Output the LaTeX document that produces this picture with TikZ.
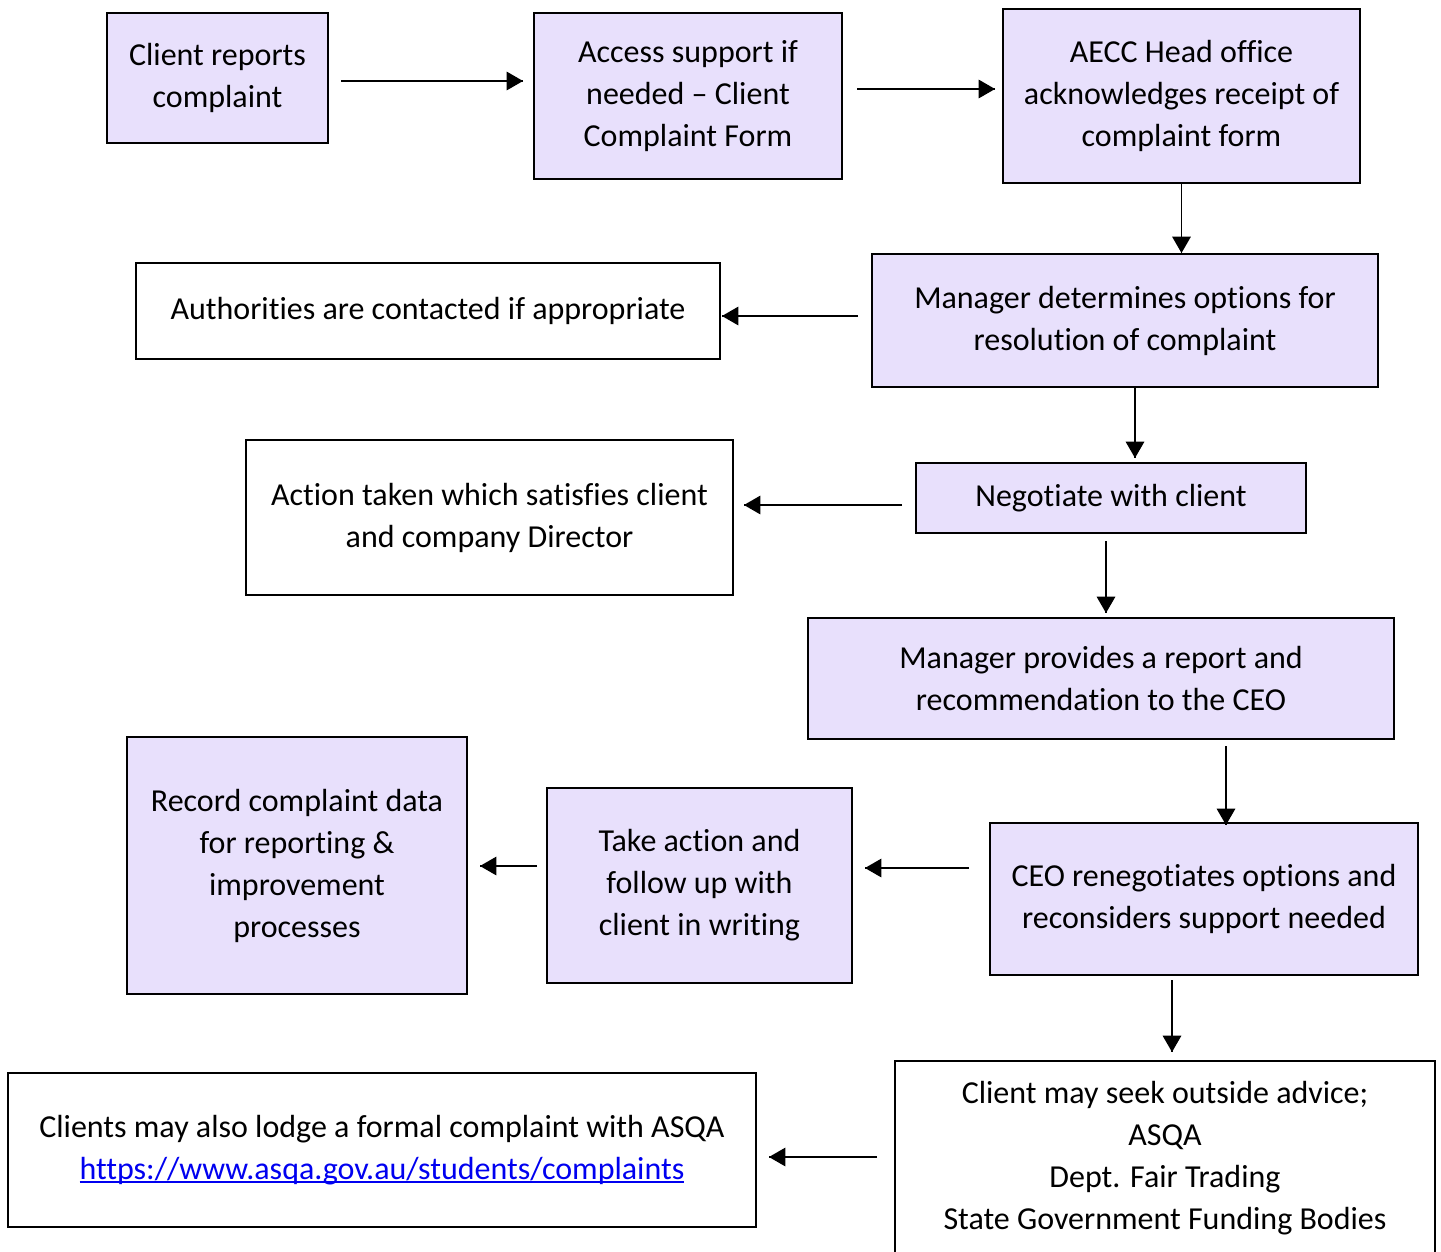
\documentclass[tikz,border=0pt]{standalone}
\usepackage{fontspec}
\setmainfont{Carlito}[Ligatures = NoCommon]
\usepackage{tikz}
\usetikzlibrary{arrows}
\usetikzlibrary{decorations.markings}
\definecolor{lilac}{RGB}{232,224,252}
\definecolor{linkblue}{RGB}{0,0,240}
\newcommand{\linkline}[1]{\setbox0\hbox{#1}\rlap{\rule[-4pt]{\wd0}{2pt}}\box0}
\tikzset{flow/.style = {line width = 1.5, decoration={markings,
                                  mark=at position 1 with {\arrow[scale=1.8]{triangle 60}}},
                      postaction={decorate}}}
\tikzset{stage/.style = {draw, line width = 2, fill = lilac, align = center, inner sep = 0}}
\tikzset{note/.style = {draw, line width = 2, fill = white, align = center, inner sep = 0}}

\begin{document}
\begin{tikzpicture}[x = 1pt, y = -1pt, font = \fontsize{32}{42}\selectfont]
      \useasboundingbox (0, 0) rectangle (1441, 1251);
      \node [stage, minimum width = 221, minimum height = 130] (report) at (217.5, 78) {Client reports\\complaint};
      \node [stage, minimum width = 308, minimum height = 166] (access) at (688, 96) {Access support if\\needed – Client\\Complaint Form};
      \node [stage, minimum width = 357, minimum height = 174] (ack) at (1181.5, 96) {AECC Head office\\acknowledges receipt of\\complaint form};
      \node [stage, minimum width = 506, minimum height = 133] (options) at (1125, 320.5) {Manager determines options for\\resolution of complaint};
      \node [note, minimum width = 584, minimum height = 96] (authority) at (428, 311) {Authorities are contacted if appropriate};
      \node [stage, minimum width = 390, minimum height = 70] (negotiate) at (1111, 498) {Negotiate with client};
      \node [note, minimum width = 487, minimum height = 155] (satisfy) at (489.5, 517.5) {Action taken which satisfies client\\and company Director};
      \node [stage, minimum width = 586, minimum height = 121] (recommend) at (1101, 678.5) {Manager provides a report and\\recommendation to the CEO};
      \node [stage, minimum width = 428, minimum height = 152] (ceo) at (1204, 899) {CEO renegotiates options and\\reconsiders support needed};
      \node [stage, minimum width = 305, minimum height = 195] (followup) at (699.5, 885.5) {Take action and\\follow up with\\client in writing};
      \node [stage, minimum width = 340, minimum height = 257] (record) at (297, 865.5) {Record complaint data\\for reporting \&\\improvement\\processes};
      \node [note, minimum width = 540, minimum height = 194] (advice) at (1165, 1158) {Client may seek outside advice;\\ASQA\\Dept. Fair Trading\\State Government Funding Bodies};
      \node [note, minimum width = 748, minimum height = 154] (asqa) at (382, 1150) {Clients may also lodge a formal complaint with ASQA\\\textcolor{linkblue}{\linkline{https://www.asqa.gov.au/students/complaints}}};
      \draw [flow] ([shift = {(12, 3)}]report.east) -- ([shift = {(-10, 3)}]report.east -| access.west);
      \draw [flow] ([shift = {(14, -7)}]access.east) -- ([shift = {(-7, -7)}]access.east -| ack.west);
      \draw [flow] (ack.south) -- (ack.south |- options.north);
      \draw [flow] ([shift = {(-13, -4.5)}]options.west) -- ([shift = {(1, -4.5)}]options.west -| authority.east);
      \draw [flow] ([xshift = 10]options.south) -- ([shift = {(10, -4)}]options.south |- negotiate.north);
      \draw [flow] ([shift = {(-13, 7)}]negotiate.west) -- ([shift = {(10, 7)}]negotiate.west -| satisfy.east);
      \draw [flow] ([shift = {(-5, 7)}]negotiate.south) -- ([shift = {(-5, -4)}]negotiate.south |- recommend.north);
      \draw [flow] ([shift = {(125, 6)}]recommend.south) -- ([shift = {(125, 3)}]recommend.south |- ceo.north);
      \draw [flow] ([shift = {(-20, -31)}]ceo.west) -- ([shift = {(12, -31)}]ceo.west -| followup.east);
      \draw [flow] ([shift = {(-9, -19.5)}]followup.west) -- ([shift = {(12, -19.5)}]followup.west -| record.east);
      \draw [flow] ([shift = {(-32, 4)}]ceo.south) -- ([shift = {(-32, -8)}]ceo.south |- advice.north);
      \draw [flow] ([shift = {(-17, -1)}]advice.west) -- ([shift = {(12, -1)}]advice.west -| asqa.east);
    \end{tikzpicture}
\end{document}
